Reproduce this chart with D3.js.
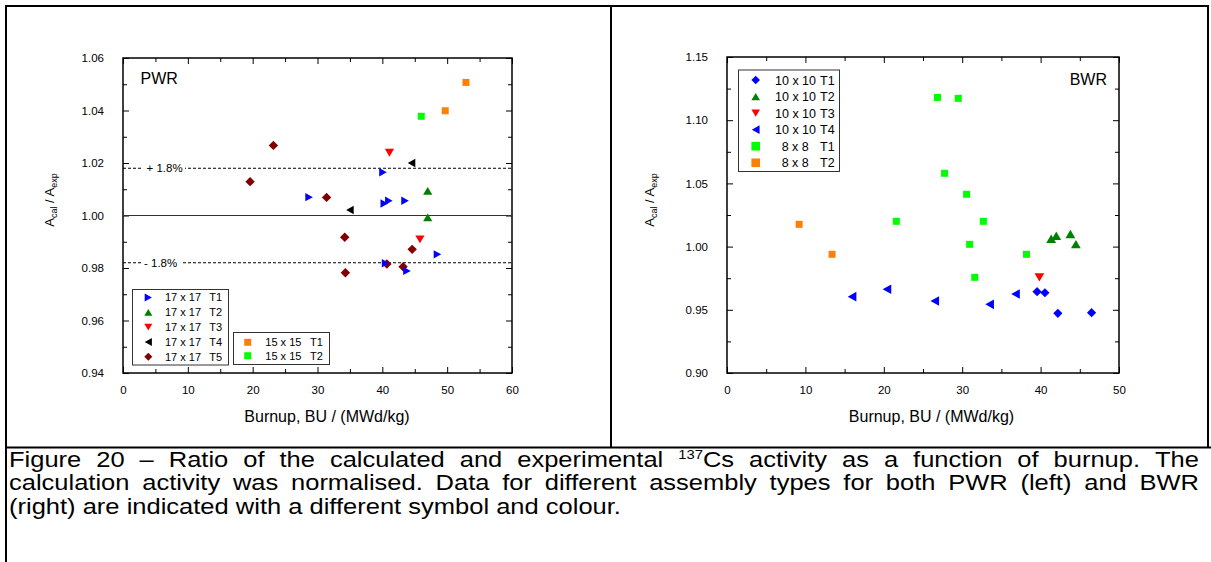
<!DOCTYPE html>
<html>
<head>
<meta charset="utf-8">
<script src="https://cdn.jsdelivr.net/npm/d3@7"></script>
<style>
body { margin: 0; background: #fff; }
svg { display: block; font-family: "Liberation Sans", Arial, sans-serif; }
text { white-space: pre; }
</style>
</head>
<body>
<svg id="chart" width="1211" height="562"></svg>
<script>
// PWR data: [burnup, Acal/Aexp]
var pwr17T1 = [[28.7, 1.0070], [40.1, 1.0165], [40.3, 1.0046], [41.0, 1.0056], [43.5, 1.0056], [48.5, 0.9852], [40.5, 0.9818], [43.8, 0.9789]];
var pwr17T2 = [[47.0, 1.0094], [47.0, 0.9993]];
var pwr17T3 = [[41.1, 1.0239], [45.8, 0.9909]];
var pwr17T4 = [[44.5, 1.0200], [35.0, 1.0021]];
var pwr17T5 = [[23.2, 1.0267], [19.6, 1.0129], [31.4, 1.0069], [34.2, 0.9917], [44.6, 0.9871], [40.7, 0.9815], [43.2, 0.9805], [34.3, 0.9782]];
var pwr15T1 = [[52.9, 1.0507], [49.7, 1.0399]];
var pwr15T2 = [[46.0, 1.0378]];

// BWR data
var bwr10T1 = [[39.55, 0.9643], [40.55, 0.9635], [42.2, 0.9472], [46.5, 0.9477]];
var bwr10T2 = [[41.35, 1.0062], [42.0, 1.0086], [43.8, 1.0100], [44.5, 1.0020]];
var bwr10T3 = [[39.85, 0.9757]];
var bwr10T4 = [[15.95, 0.9604], [20.4, 0.9662], [26.5, 0.9570], [33.5, 0.9543], [36.8, 0.9625]];
var bwr8T1 = [[26.85, 1.1180], [29.5, 1.1173], [27.75, 1.0580], [30.56, 1.0414], [21.6, 1.0200], [32.7, 1.0200], [30.95, 1.0018], [38.2, 0.9939], [31.6, 0.9757]];
var bwr8T2 = [[9.2, 1.0176], [13.4, 0.9939]];

var pwrXTicks = [0, 10, 20, 30, 40, 50, 60];
var pwrYTicks = [0.94, 0.96, 0.98, 1.00, 1.02, 1.04, 1.06];
var bwrXTicks = [0, 10, 20, 30, 40, 50];
var bwrYTicks = [0.90, 0.95, 1.00, 1.05, 1.10, 1.15];
var pwrBand = [1.018, 0.982];

var captionLines = [
	'Figure 20 – Ratio of the calculated and experimental ^137Cs activity as a function of burnup. The',
	'calculation activity was normalised. Data for different assembly types for both PWR (left) and BWR',
	'(right) are indicated with a different symbol and colour.'
];

var svg = d3.select('#chart');
svg.append('rect').attr('width', 1211).attr('height', 562).attr('fill', '#fff');

// symbol paths, s = half size
function shape(type, s) {
	var p = d3.path();
	if (type === 'right') { p.moveTo(-0.9 * s, -s); p.lineTo(0.9 * s, 0); p.lineTo(-0.9 * s, s); }
	else if (type === 'left') { p.moveTo(0.9 * s, -s); p.lineTo(-0.9 * s, 0); p.lineTo(0.9 * s, s); }
	else if (type === 'up') { p.moveTo(-s, 0.85 * s); p.lineTo(0, -0.85 * s); p.lineTo(s, 0.85 * s); }
	else if (type === 'down') { p.moveTo(-s, -0.85 * s); p.lineTo(0, 0.85 * s); p.lineTo(s, -0.85 * s); }
	else if (type === 'diamond') { p.moveTo(0, -s); p.lineTo(s, 0); p.lineTo(0, s); p.lineTo(-s, 0); }
	else { p.rect(-s, -s, 2 * s, 2 * s); }
	p.closePath();
	return p.toString();
}

function drawPanel(cfg) {
	var g = svg.append('g');
	var x = d3.scaleLinear().domain(cfg.xDomain).range([cfg.left, cfg.right]);
	var y = d3.scaleLinear().domain(cfg.yDomain).range([cfg.bottom, cfg.top]);

	function axis(a, pos, ticks, size, labels) {
		var ax = g.append('g').attr('transform', pos).call(a.tickValues(ticks).tickSize(size).tickPadding(0)
			.tickFormat(labels ? labels : ''));
		ax.select('.domain').remove();
		ax.selectAll('line').attr('stroke', '#000').attr('stroke-width', 1);
		ax.selectAll('text').attr('font-size', cfg.tickFont).attr('fill', '#000').attr('font-family', null);
		return ax;
	}
	var fmt = d3.format('.2f');
	axis(d3.axisBottom(x), 'translate(0,' + cfg.bottom + ')', cfg.xTicks, -6, d3.format('d'))
		.selectAll('text').attr('y', 13);
	axis(d3.axisBottom(x), 'translate(0,' + cfg.bottom + ')', cfg.xMinor, -4);
	axis(d3.axisTop(x), 'translate(0,' + cfg.top + ')', cfg.xTicks, -6);
	axis(d3.axisTop(x), 'translate(0,' + cfg.top + ')', cfg.xMinor, -4);
	axis(d3.axisLeft(y), 'translate(' + cfg.left + ',0)', cfg.yTicks, -6, fmt)
		.selectAll('text').attr('x', -19);
	axis(d3.axisLeft(y), 'translate(' + cfg.left + ',0)', cfg.yMinor, -4);
	axis(d3.axisRight(y), 'translate(' + cfg.right + ',0)', cfg.yTicks, -6);
	axis(d3.axisRight(y), 'translate(' + cfg.right + ',0)', cfg.yMinor, -4);

	g.append('rect')
		.attr('x', cfg.left).attr('y', cfg.top)
		.attr('width', cfg.right - cfg.left).attr('height', cfg.bottom - cfg.top)
		.attr('fill', 'none').attr('stroke', '#000').attr('stroke-width', 1.5);

	// axis titles
	g.append('text')
		.attr('x', cfg.xTitleX).attr('y', 422)
		.attr('text-anchor', 'middle').attr('font-size', 16)
		.text('Burnup, BU / (MWd/kg)');
	var yt = g.append('text')
		.attr('transform', 'translate(' + cfg.yTitleX + ',200) rotate(-90)')
		.attr('text-anchor', 'middle').attr('font-size', 13);
	yt.append('tspan').text('A');
	yt.append('tspan').attr('font-size', 9).attr('dy', 3).text('cal');
	yt.append('tspan').attr('dy', -3).text(' / A');
	yt.append('tspan').attr('font-size', 9).attr('dy', 3).text('exp');

	return { g: g, x: x, y: y };
}

function drawSeries(panel, data, type, color, s) {
	panel.g.append('g').selectAll('path')
		.data(data).enter()
		.append('path')
		.attr('transform', function (d) { return 'translate(' + panel.x(d[0]) + ',' + panel.y(d[1]) + ')'; })
		.attr('d', shape(type, s))
		.attr('fill', color);
}

function drawLegend(box, items, fontSize, s) {
	svg.append('rect')
		.attr('x', box.x).attr('y', box.y).attr('width', box.w).attr('height', box.h)
		.attr('fill', '#fff').attr('stroke', '#333').attr('stroke-width', 1);
	items.forEach(function (it, i) {
		var cy = box.firstRow + i * box.step;
		svg.append('path')
			.attr('transform', 'translate(' + box.mx + ',' + cy + ')')
			.attr('d', shape(it.type, s)).attr('fill', it.color);
		svg.append('text').attr('x', it.tx).attr('y', cy + fontSize * 0.36)
			.attr('font-size', fontSize).text(it.name);
		svg.append('text').attr('x', box.sx).attr('y', cy + fontSize * 0.36)
			.attr('font-size', fontSize).text(it.suffix);
	});
}

// ---------- PWR ----------
var pwr = drawPanel({
	left: 123, right: 512, top: 58, bottom: 373,
	xDomain: [0, 60], yDomain: [0.94, 1.06],
	xTicks: pwrXTicks, xMinor: [5, 15, 25, 35, 45, 55],
	yTicks: pwrYTicks, yMinor: [0.95, 0.97, 0.99, 1.01, 1.03, 1.05],
	tickFont: 11.5, xTitleX: 327, yTitleX: 54
});

pwr.g.append('line')
	.attr('x1', 123).attr('x2', 512).attr('y1', pwr.y(1)).attr('y2', pwr.y(1))
	.attr('stroke', '#333').attr('stroke-width', 1);
pwrBand.forEach(function (v) {
	pwr.g.append('line')
		.attr('x1', 123).attr('x2', 512).attr('y1', pwr.y(v)).attr('y2', pwr.y(v))
		.attr('stroke', '#000').attr('stroke-width', 1).attr('stroke-dasharray', '3,2');
	var lbl = (v > 1 ? '+ ' : '- ') + d3.format('.1f')(Math.abs(v - 1) * 100) + '%';
	pwr.g.append('rect').attr('x', 143).attr('y', pwr.y(v) - 5).attr('width', v > 1 ? 42 : 39).attr('height', 10).attr('fill', '#fff');
	pwr.g.append('text').attr('x', v > 1 ? 146.5 : 144).attr('y', pwr.y(v) + 4)
		.attr('font-size', 11.5).text(lbl);
});

pwr.g.append('text').attr('x', 140.5).attr('y', 84).attr('font-size', 16).text('PWR');

drawSeries(pwr, pwr17T5, 'diamond', '#800000', 4.7);
drawSeries(pwr, pwr17T1, 'right', '#0000ff', 4.2);
drawSeries(pwr, pwr17T2, 'up', '#008000', 4.6);
drawSeries(pwr, pwr17T3, 'down', '#ff0000', 4.6);
drawSeries(pwr, pwr17T4, 'left', '#000000', 4.2);
drawSeries(pwr, pwr15T1, 'square', '#ff8000', 3.5);
drawSeries(pwr, pwr15T2, 'square', '#00ff00', 3.5);

drawLegend({ x: 132.5, y: 289.5, w: 96, h: 75.5, mx: 148.3, sx: 209.3, firstRow: 297.5, step: 14.8 }, [
	{ type: 'right', color: '#0000ff', name: '17 x 17', suffix: 'T1', tx: 165 },
	{ type: 'up', color: '#008000', name: '17 x 17', suffix: 'T2', tx: 165 },
	{ type: 'down', color: '#ff0000', name: '17 x 17', suffix: 'T3', tx: 165 },
	{ type: 'left', color: '#000000', name: '17 x 17', suffix: 'T4', tx: 165 },
	{ type: 'diamond', color: '#800000', name: '17 x 17', suffix: 'T5', tx: 165 }
], 11, 4);
drawLegend({ x: 233.5, y: 332.5, w: 96, h: 32, mx: 247.7, sx: 310, firstRow: 342.3, step: 13.4 }, [
	{ type: 'square', color: '#ff8000', name: '15 x 15', suffix: 'T1', tx: 265.3 },
	{ type: 'square', color: '#00ff00', name: '15 x 15', suffix: 'T2', tx: 265.3 }
], 11, 3.5);

// ---------- BWR ----------
var bwr = drawPanel({
	left: 727, right: 1119, top: 57, bottom: 373,
	xDomain: [0, 50], yDomain: [0.90, 1.15],
	xTicks: bwrXTicks, xMinor: [5, 15, 25, 35, 45],
	yTicks: bwrYTicks, yMinor: [0.925, 0.975, 1.025, 1.075, 1.125],
	tickFont: 11.5, xTitleX: 931.5, yTitleX: 654
});

bwr.g.append('text').attr('x', 1107).attr('y', 85).attr('text-anchor', 'end').attr('font-size', 16).text('BWR');

drawSeries(bwr, bwr8T1, 'square', '#00ff00', 3.5);
drawSeries(bwr, bwr8T2, 'square', '#ff8000', 3.5);
drawSeries(bwr, bwr10T4, 'left', '#0000ff', 4.8);
drawSeries(bwr, bwr10T1, 'diamond', '#0000ff', 4.6);
drawSeries(bwr, bwr10T2, 'up', '#008000', 4.9);
drawSeries(bwr, bwr10T3, 'down', '#ff0000', 4.9);

drawLegend({ x: 738.5, y: 70, w: 101, h: 101.5, mx: 755.7, sx: 820, firstRow: 80, step: 16.55 }, [
	{ type: 'diamond', color: '#0000ff', name: '10 x 10', suffix: 'T1', tx: 775 },
	{ type: 'up', color: '#008000', name: '10 x 10', suffix: 'T2', tx: 775 },
	{ type: 'down', color: '#ff0000', name: '10 x 10', suffix: 'T3', tx: 775 },
	{ type: 'left', color: '#0000ff', name: '10 x 10', suffix: 'T4', tx: 775 },
	{ type: 'square', color: '#00ff00', name: '8 x 8', suffix: 'T1', tx: 781.7 },
	{ type: 'square', color: '#ff8000', name: '8 x 8', suffix: 'T2', tx: 781.7 }
], 12.5, 4.3);

// ---------- frame lines ----------
var frame = svg.append('g').attr('stroke', '#000').attr('stroke-width', 2).attr('fill', 'none');
frame.append('path').attr('d', 'M6,562 V6 H1208 V447');
frame.append('line').attr('x1', 611).attr('x2', 611).attr('y1', 6).attr('y2', 447);
frame.append('line').attr('x1', 6).attr('x2', 1211).attr('y1', 447.5).attr('y2', 447.5);

// ---------- caption (justified, glyphs a little wide) ----------
var capFont = 21.5, capStretch = 1.186, capLeft = 9, capRight = 1199;
var capBase = [467, 490.3, 513.6];
captionLines.forEach(function (line, li) {
	var words = line.split(' ');
	var nodes = words.map(function (w) {
		var t = svg.append('text').attr('font-size', capFont);
		var m = w.match(/^\^(\d+)(.*)$/);
		if (m) {
			t.append('tspan').attr('font-size', capFont * 0.58).attr('dy', -capFont * 0.38).text(m[1]);
			t.append('tspan').attr('dy', capFont * 0.38).text(m[2]);
		} else {
			t.text(w);
		}
		return t;
	});
	var widths = nodes.map(function (t) { return t.node().getComputedTextLength() * capStretch; });
	var space = capFont * 0.278 * capStretch;
	if (li < captionLines.length - 1) {
		space = (capRight - capLeft - d3.sum(widths)) / (nodes.length - 1);
	}
	var cx = capLeft;
	nodes.forEach(function (t, i) {
		t.attr('transform', 'translate(' + cx + ',' + capBase[li] + ') scale(' + capStretch + ',1)');
		cx += widths[i] + space;
	});
});
</script>
</body>
</html>
